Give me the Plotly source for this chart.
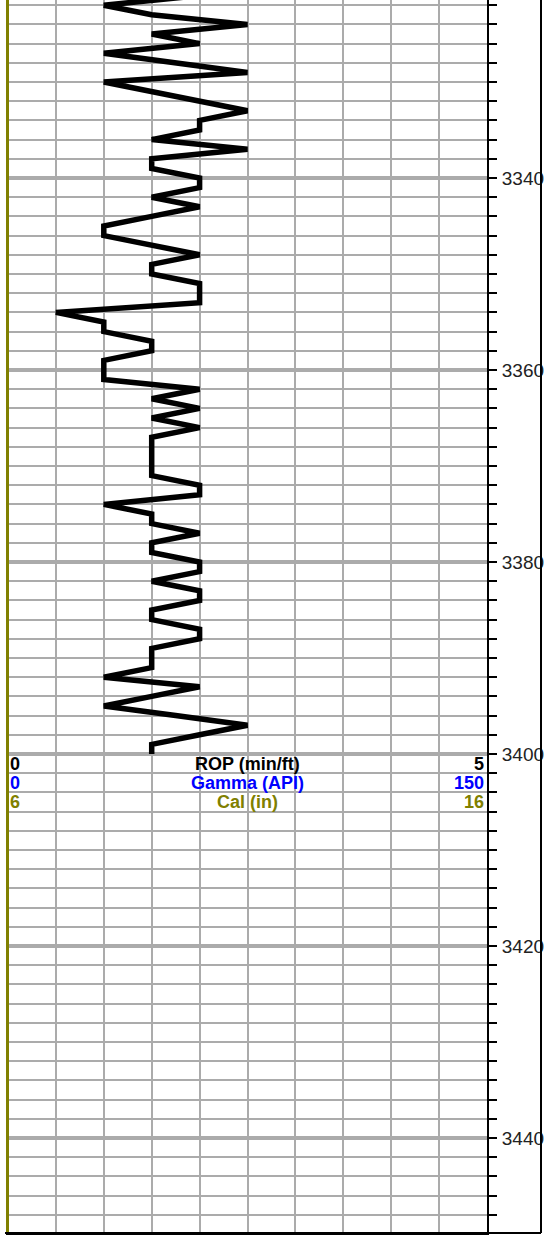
import plotly.graph_objects as go

# ROP log (min/ft) sampled every foot
rop_depth = list(range(3321, 3401))
rop_min_ft = [
    2.0, 1.0, 1.5, 2.5, 1.5, 2.0, 1.0, 1.75, 2.5, 1.0,   # 3321-3330
    1.5, 2.0, 2.5, 2.0, 2.0, 1.5, 2.5, 1.5, 1.5, 2.0,    # 3331-3340
    2.0, 1.5, 2.0, 1.5, 1.0, 1.0, 1.5, 2.0, 1.5, 1.5,    # 3341-3350
    2.0, 2.0, 2.0, 0.5, 1.0, 1.0, 1.5, 1.5, 1.0, 1.0,    # 3351-3360
    1.0, 2.0, 1.5, 2.0, 1.5, 2.0, 1.5, 1.5, 1.5, 1.5,    # 3361-3370
    1.5, 2.0, 2.0, 1.0, 1.5, 1.5, 2.0, 1.5, 1.5, 2.0,    # 3371-3380
    2.0, 1.5, 2.0, 2.0, 1.5, 1.5, 2.0, 2.0, 1.5, 1.5,    # 3381-3390
    1.5, 1.0, 2.0, 1.5, 1.0, 1.75, 2.5, 2.0, 1.5, 1.5,   # 3391-3400
]

# Caliper (in) and Gamma (API) curves sit on the left edge
cal_depth = [3320, 3452]
cal_in = [6, 6]
gamma_depth = [3320, 3452]
gamma_api = [0, 0]

# Header scale rows: (left value, title, right value, colour, row depth)
header_left = ["0", "0", "6"]
header_title = ["ROP (min/ft)", "Gamma (API)", "Cal (in)"]
header_right = ["5", "150", "16"]
header_color = ["#000000", "#0000FF", "#808000"]
header_depth = [3401, 3403, 3405]

W, H = 544, 1236
L, R, T, B = 6, 57, 0, 3
plot_w = W - L - R
px_per_rop = (487 - 8) / 5.0
rop_lo = -(8 - L) / px_per_rop
px_per_cal = (487 - 8) / 10.0
cal_lo = 6 - (7 - L) / px_per_cal
px_per_gam = (487 - 8) / 150.0
gam_lo = 0 - (6 - L + 0.5) / px_per_gam

px_per_ft = 9.6
top_depth = 3340 - 178 / px_per_ft
bot_depth = top_depth + (H - T - B) / px_per_ft

fig = go.Figure()

fig.add_trace(go.Scatter(x=gamma_api, y=gamma_depth, mode="lines",
                         line=dict(color="#0000FF", width=2),
                         xaxis="x2", yaxis="y", showlegend=False, hoverinfo="skip"))
fig.add_trace(go.Scatter(x=cal_in, y=cal_depth, mode="lines",
                         line=dict(color="#808000", width=4),
                         xaxis="x3", yaxis="y", showlegend=False, hoverinfo="skip"))
fig.add_trace(go.Scatter(x=rop_min_ft, y=rop_depth, mode="lines",
                         line=dict(color="#000000", width=5.5),
                         xaxis="x", yaxis="y", showlegend=False))

annotations = []
for lv, tt, rv, c, d in zip(header_left, header_title, header_right, header_color, header_depth):
    f = dict(family="Liberation Sans, Arial", size=18, color=c, weight="bold")
    annotations.append(dict(x=0, y=d, xref="x", yref="y", text=f"<b>{lv}</b>",
                            showarrow=False, xanchor="left", yanchor="middle", font=f, xshift=0))
    annotations.append(dict(x=2.5, y=d, xref="x", yref="y", text=f"<b>{tt}</b>",
                            showarrow=False, xanchor="center", yanchor="middle", font=f))
    annotations.append(dict(x=5, y=d, xref="x", yref="y", text=f"<b>{rv}</b>",
                            showarrow=False, xanchor="right", yanchor="middle", font=f, xshift=-1))

bx0 = (5 - L) / plot_w
bx1 = (541 - L) / plot_w
shapes = [
    dict(type="line", xref="paper", yref="paper", x0=bx0, x1=bx1, y0=0, y1=0,
         line=dict(color="#000000", width=2)),
    dict(type="line", xref="paper", yref="paper", x0=bx1, x1=bx1, y0=0, y1=1.01,
         line=dict(color="#000000", width=2)),
]

grid_c = "#ababab"
fig.update_layout(
    width=W, height=H,
    margin=dict(l=L, r=R, t=T, b=B, pad=0, autoexpand=False),
    paper_bgcolor="white", plot_bgcolor="white",
    showlegend=False,
    xaxis=dict(range=[rop_lo, 5], tick0=0, dtick=0.5, showgrid=True, gridcolor=grid_c,
               gridwidth=2, showticklabels=False, ticks="", zeroline=False, automargin=False,
               showline=True, linecolor="#000000", linewidth=2, mirror=False),
    xaxis2=dict(range=[gam_lo, 150], overlaying="x", visible=False),
    xaxis3=dict(range=[cal_lo, 16], overlaying="x", visible=False),
    yaxis=dict(range=[bot_depth, top_depth], side="right", tick0=3340, dtick=20,
               showgrid=True, gridcolor=grid_c, gridwidth=3.5, zeroline=False, automargin=False,
               showline=True, linecolor="#000000", linewidth=2,
               ticks="outside", ticklen=8, tickwidth=2, tickcolor="#000000",
               ticklabelstandoff=1,
               tickfont=dict(family="Liberation Sans, Arial", size=19, color="#222222"),
               minor=dict(tick0=3340, dtick=2, showgrid=True, gridcolor=grid_c, gridwidth=2,
                          ticks="outside", ticklen=8, tickwidth=2, tickcolor="#000000")),
    annotations=annotations,
    shapes=shapes,
)

fig.write_html("out.html", config={"displayModeBar": False},
               post_script="document.body.style.margin='0';document.body.style.overflow='hidden';")
